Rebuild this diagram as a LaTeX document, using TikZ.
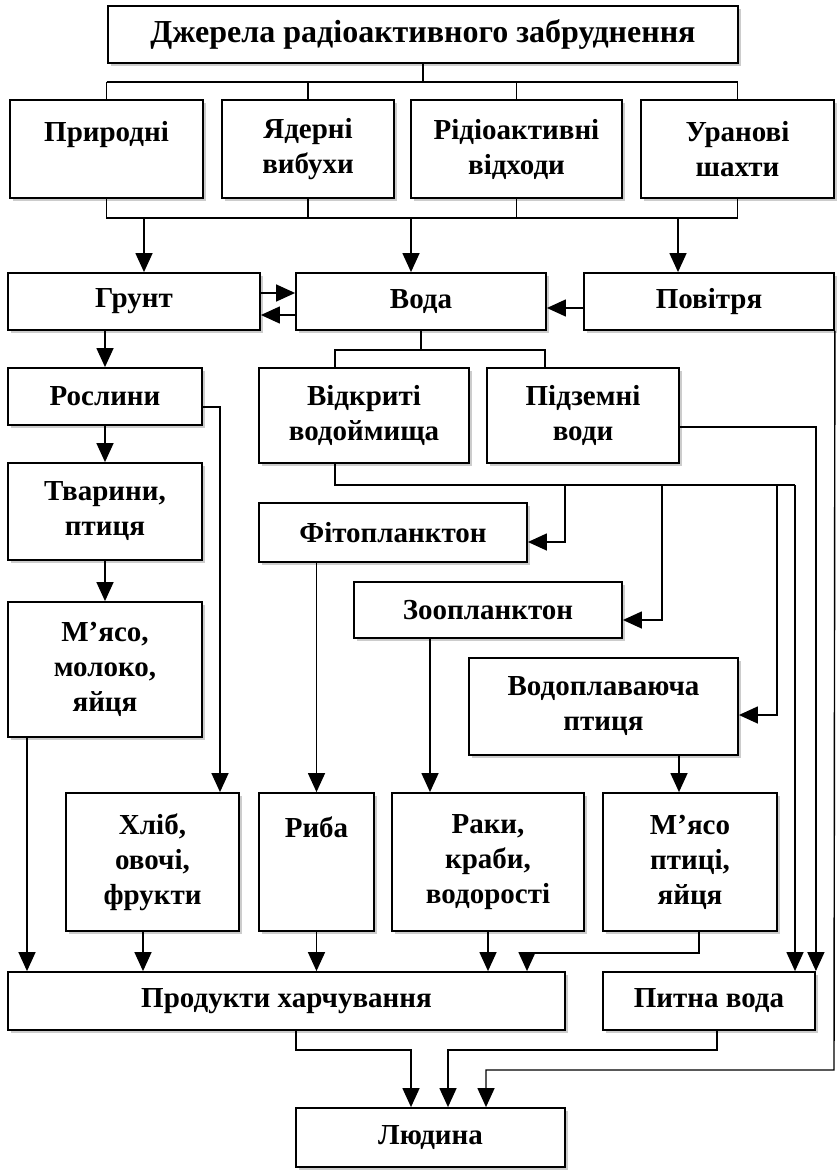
\documentclass[tikz,border=0pt]{standalone}
\usepackage{fontspec}
\setmainfont{Liberation Serif}
\usepackage{tikz}
\usetikzlibrary{arrows.meta,shadows}

\begin{document}
\begin{tikzpicture}[x=0.5pt,y=-0.5pt,
		box/.style={draw, line width=0.9pt, fill=white, inner sep=0pt, align=center,
			font=\fontsize{14.5pt}{17.5pt}\selectfont\bfseries,
			drop shadow={shadow xshift=1.6pt, shadow yshift=-1.6pt, fill=gray!40, opacity=1}},
		arr/.style={line width=0.7pt, -{Triangle[length=9.5pt, width=8.5pt]}},
		ln/.style={line width=0.7pt}] %
		\useasboundingbox (0,0) rectangle (837,1171);
		% Sources
		\node[box, minimum width=315pt, minimum height=28.5pt, font=\fontsize{16pt}{19pt}\selectfont\bfseries] (Sources) at (423,34.5) {Джерела радіоактивного забруднення} ;
		\node[box, minimum width=96.5pt, minimum height=49pt] (Natural) at (106.5,149) {Природні\\\mbox{}} ;
		\node[box, minimum width=86pt, minimum height=49pt] (Nuclear) at (308,149) {Ядерні\\вибухи} ;
		\node[box, minimum width=105.5pt, minimum height=49pt] (Waste) at (516.5,149) {Рідіоактивні\\відходи} ;
		\node[box, minimum width=96.5pt, minimum height=49pt] (Mines) at (737.5,149) {Уранові\\шахти} ;
		% Media
		\node[box, minimum width=126pt, minimum height=28.5pt] (Soil) at (134,301.5) {Грунт} ;
		\node[box, minimum width=125pt, minimum height=28.5pt] (Water) at (421,301.5) {Вода} ;
		\node[box, minimum width=125pt, minimum height=28.5pt] (Air) at (709,301.5) {Повітря} ;
		% Land chain
		\node[box, minimum width=97pt, minimum height=28.5pt] (Plants) at (105,396.5) {Рослини} ;
		\node[box, minimum width=97pt, minimum height=48.5pt] (Animals) at (105,511.5) {Тварини,\\птиця} ;
		\node[box, minimum width=97pt, minimum height=67.5pt] (Meat) at (105,669.5) {М’ясо,\\молоко,\\яйця} ;
		% Water chain
		\node[box, minimum width=105pt, minimum height=47.5pt] (Open) at (364,415.5) {Відкриті\\водоймища} ;
		\node[box, minimum width=96pt, minimum height=47.5pt] (Ground) at (583,415.5) {Підземні\\води} ;
		\node[box, minimum width=134pt, minimum height=29.5pt] (Phyto) at (393,532.5) {Фітопланктон} ;
		\node[box, minimum width=134pt, minimum height=28pt] (Zoo) at (488,610) {Зоопланктон} ;
		\node[box, minimum width=134.5pt, minimum height=48.5pt] (Bird) at (603.5,706.5) {Водоплаваюча\\птиця} ;
		% Products
		\node[box, minimum width=86.5pt, minimum height=69pt] (Bread) at (152.5,862) {Хліб,\\овочі,\\фрукти} ;
		\node[box, minimum width=57.5pt, minimum height=69pt] (Fish) at (316.5,862) {Риба\\\mbox{}\\\mbox{}} ;
		\node[box, minimum width=96pt, minimum height=69pt] (Crabs) at (488,862) {Раки,\\краби,\\водорості} ;
		\node[box, minimum width=87pt, minimum height=69pt] (Poultry) at (690,862) {М’ясо\\птиці,\\яйця} ;
		\node[box, minimum width=278.5pt, minimum height=29pt] (Food) at (286.5,1001) {Продукти харчування} ;
		\node[box, minimum width=106pt, minimum height=29pt] (Drink) at (709,1001) {Питна вода} ;
		\node[box, minimum width=134.5pt, minimum height=29.5pt] (Human) at (430.5,1137.5) {Людина} ;
		% Bus coordinates
		\coordinate (busA) at (0,82) ;
		\coordinate (busB) at (0,218) ;
		\coordinate (toSoil) at (144,218) ;
		\coordinate (toWater) at (411,218) ;
		\coordinate (toAir) at (678,218) ;
		\coordinate (wL) at (335,350) ;
		\coordinate (wR) at (545,350) ;
		\coordinate (pb) at (220,407) ;
		\coordinate (oa) at (335,485) ;
		\coordinate (o1) at (565,485) ;
		\coordinate (o2) at (662,485) ;
		\coordinate (o3) at (777,485) ;
		\coordinate (oe) at (795,485) ;
		\coordinate (zc) at (430,0) ;
		\coordinate (bp) at (679,0) ;
		\coordinate (mf) at (27,0) ;
		\coordinate (bf) at (143,0) ;
		\coordinate (pm) at (699,953) ;
		\coordinate (pk) at (527,953) ;
		\coordinate (fm) at (296,1050) ;
		\coordinate (fm2) at (411,1050) ;
		\coordinate (dm) at (717,1050) ;
		\coordinate (dm2) at (448,1050) ;
		\coordinate (ad) at (834,1070) ;
		\coordinate (am) at (486,1070) ;
		% Sources to media
		\draw[ln] (Sources.south) -- (Sources.south |- busA) ;
		\draw[ln] (Natural.north |- busA) -- (Mines.north |- busA) ;
		\draw[ln] (Natural.north |- busA) -- (Natural.north) ;
		\draw[ln] (Nuclear.north |- busA) -- (Nuclear.north) ;
		\draw[ln] (Waste.north |- busA) -- (Waste.north) ;
		\draw[ln] (Mines.north |- busA) -- (Mines.north) ;
		\draw[ln] (Natural.south) -- (Natural.south |- busB) -- (Mines.south |- busB) -- (Mines.south) ;
		\draw[ln] (Nuclear.south) -- (Nuclear.south |- busB) ;
		\draw[ln] (Waste.south) -- (Waste.south |- busB) ;
		\draw[arr] (toSoil) -- (toSoil |- Soil.north) ;
		\draw[arr] (toWater) -- (toWater |- Water.north) ;
		\draw[arr] (toAir) -- (toAir |- Air.north) ;
		% Between media
		\draw[arr] ([yshift=4.25pt]Soil.east) -- ([yshift=4.25pt]Water.west) ;
		\draw[arr] ([yshift=-6.75pt]Water.west) -- ([yshift=-6.75pt]Soil.east) ;
		\draw[arr] ([yshift=-3.25pt]Air.west) -- ([yshift=-3.25pt]Water.east) ;
		% Land
		\draw[arr] (Plants.north |- Soil.south) -- (Plants.north) ;
		\draw[arr] (Plants.south) -- (Animals.north) ;
		\draw[arr] (Animals.south) -- (Meat.north) ;
		\draw[arr] (pb -| Plants.east) -- (pb) -- (pb |- Bread.north) ;
		% Water
		\draw[ln] (Water.south) -- (Water.south |- wL) ;
		\draw[ln] (wL |- Open.north) -- (wL) -- (wR) -- (wR |- Ground.north) ;
		\draw[ln] (oa |- Open.south) -- (oa) -- (oe) ;
		\draw[arr] (o1) |- ([yshift=-4.75pt]Phyto.east) ;
		\draw[arr] (o2) |- ([yshift=-5pt]Zoo.east) ;
		\draw[arr] (o3) |- ([yshift=-4.25pt]Bird.east) ;
		\draw[arr] (oe) -- (oe |- Drink.north) ;
		\draw[arr] ([yshift=-5.75pt]Ground.east) -| (Drink.north east) ;
		\draw[arr] (Fish.north |- Phyto.south) -- (Fish.north) ;
		\draw[arr] (zc |- Zoo.south) -- (zc |- Crabs.north) ;
		\draw[arr] (bp |- Bird.south) -- (bp |- Poultry.north) ;
		% Food
		\draw[arr] (mf |- Meat.south) -- (mf |- Food.north) ;
		\draw[arr] (bf |- Bread.south) -- (bf |- Food.north) ;
		\draw[arr] (Fish.south) -- (Fish.south |- Food.north) ;
		\draw[arr] (Crabs.south) -- (Crabs.south |- Food.north) ;
		\draw[arr] (pm |- Poultry.south) -- (pm) -- (pk) -- (pk |- Food.north) ;
		% Human
		\draw[arr] (fm |- Food.south) -- (fm) -- (fm2) -- (fm2 |- Human.north) ;
		\draw[arr] (dm |- Drink.south) -- (dm) -- (dm2) -- (dm2 |- Human.north) ;
		\draw[arr] (Air.south east) -- (ad) -- (am) -- (am |- Human.north) ;
	\end{tikzpicture}
\end{document}
